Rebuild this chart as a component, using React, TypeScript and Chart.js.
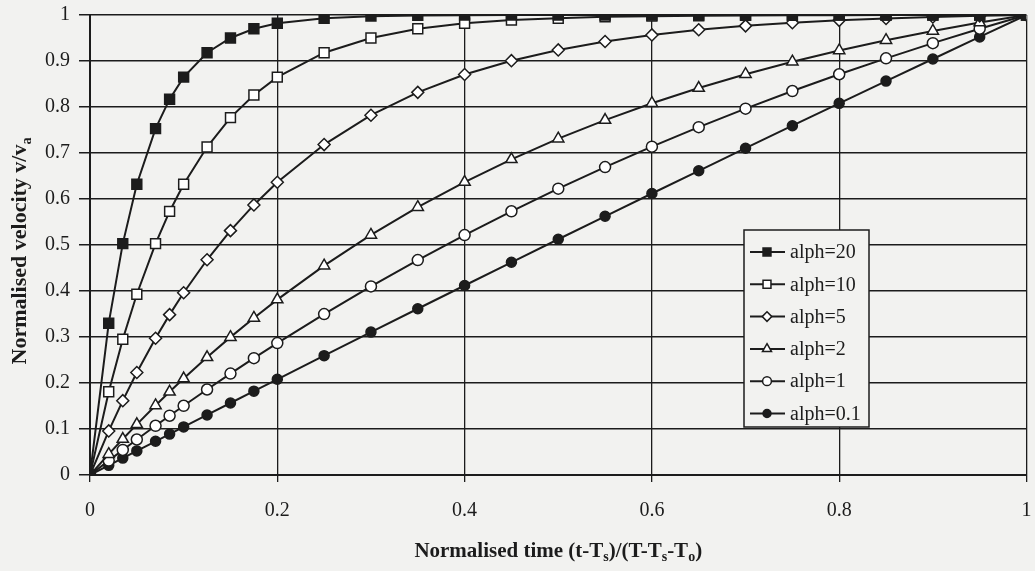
import React, { useEffect, useRef } from "react";
import { Chart, registerables } from "chart.js";

Chart.register(...registerables);

// ---- data ----
const timeValues = [0, 0.02, 0.035, 0.05, 0.07, 0.085, 0.1, 0.125, 0.15, 0.175, 0.2, 0.25, 0.3, 0.35, 0.4, 0.45, 0.5, 0.55, 0.6, 0.65, 0.7, 0.75, 0.8, 0.85, 0.9, 0.95, 1];

const alph20 = [0, 0.33, 0.503, 0.632, 0.753, 0.817, 0.865, 0.918, 0.95, 0.97, 0.982, 0.993, 0.9975, 0.9991, 0.9997, 0.9999, 1, 1, 1, 1, 1, 1, 1, 1, 1, 1, 1];
const alph10 = [0, 0.181, 0.295, 0.393, 0.503, 0.573, 0.632, 0.713, 0.777, 0.826, 0.865, 0.918, 0.95, 0.97, 0.982, 0.989, 0.993, 0.996, 0.9975, 0.9985, 0.9991, 0.9994, 0.9997, 0.9998, 0.9999, 0.99995, 1];
const alph5 = [0, 0.0958, 0.1616, 0.2227, 0.2973, 0.3486, 0.3962, 0.4679, 0.5312, 0.5871, 0.6364, 0.7183, 0.7822, 0.8318, 0.8706, 0.9007, 0.9241, 0.9424, 0.9567, 0.9678, 0.9764, 0.9831, 0.9884, 0.9924, 0.9956, 0.9981, 1];
const alph2 = [0, 0.0453, 0.0782, 0.1101, 0.1511, 0.1808, 0.2096, 0.2558, 0.2997, 0.3415, 0.3813, 0.4551, 0.5218, 0.5822, 0.6369, 0.6863, 0.7311, 0.7716, 0.8082, 0.8413, 0.8713, 0.8985, 0.923, 0.9453, 0.9653, 0.9835, 1];
const alph1 = [0, 0.0313, 0.0544, 0.0772, 0.107, 0.1289, 0.1505, 0.1859, 0.2204, 0.254, 0.2868, 0.3499, 0.41, 0.4672, 0.5215, 0.5733, 0.6225, 0.6693, 0.7138, 0.7561, 0.7964, 0.8347, 0.8712, 0.9058, 0.9388, 0.9702, 1];
const alph01 = [0, 0.021, 0.0367, 0.0524, 0.0733, 0.0889, 0.1046, 0.1305, 0.1565, 0.1823, 0.2081, 0.2595, 0.3106, 0.3614, 0.412, 0.4624, 0.5125, 0.5624, 0.612, 0.6613, 0.7104, 0.7593, 0.8079, 0.8563, 0.9044, 0.9523, 1];

const seriesLabels = ["alph=20", "alph=10", "alph=5", "alph=2", "alph=1", "alph=0.1"];
const seriesValues = [alph20, alph10, alph5, alph2, alph1, alph01];

const xTickLabels = ["0", "0.2", "0.4", "0.6", "0.8", "1"];
const yTickLabels = ["0", "0.1", "0.2", "0.3", "0.4", "0.5", "0.6", "0.7", "0.8", "0.9", "1"];

// title pieces: [text, isSubscript]
const xTitleParts: [string, boolean][] = [["Normalised time (t-T", false], ["s", true], [")/(T-T", false], ["s", true], ["-T", false], ["o", true], [")", false]];
const yTitleParts: [string, boolean][] = [["Normalised velocity v/v", false], ["a", true]];

// ---- styles ----
const INK = "#1c1c1c";
const BG = "#f2f2f0";
const SERIF = '"Liberation Serif", "Times New Roman", serif';

type Marker = { shape: string; fill: string; radius: number };
const markers: Marker[] = [
  { shape: "rect", fill: INK, radius: 7 },
  { shape: "rect", fill: "#ffffff", radius: 7 },
  { shape: "rectRot", fill: "#ffffff", radius: 6 },
  { shape: "triangle", fill: "#ffffff", radius: 6.5 },
  { shape: "circle", fill: "#ffffff", radius: 5.5 },
  { shape: "circle", fill: INK, radius: 5 },
];

function drawRich(ctx: CanvasRenderingContext2D, parts: [string, boolean][], cx: number, cy: number, size: number) {
  const big = `bold ${size}px ${SERIF}`;
  const small = `bold ${Math.round(size * 0.65)}px ${SERIF}`;
  let total = 0;
  for (const [t, sub] of parts) {
    ctx.font = sub ? small : big;
    total += ctx.measureText(t).width;
  }
  let x = cx - total / 2;
  ctx.textAlign = "left";
  ctx.textBaseline = "alphabetic";
  for (const [t, sub] of parts) {
    ctx.font = sub ? small : big;
    ctx.fillText(t, x, cy + size * 0.33 + (sub ? size * 0.2 : 0));
    x += ctx.measureText(t).width;
  }
}

function drawMarker(ctx: CanvasRenderingContext2D, m: Marker, x: number, y: number, scale: number) {
  const r = m.radius * scale;
  ctx.beginPath();
  if (m.shape === "rect") {
    const s = r * Math.SQRT1_2;
    ctx.rect(x - s, y - s, 2 * s, 2 * s);
  } else if (m.shape === "rectRot") {
    ctx.moveTo(x, y - r);
    ctx.lineTo(x + r, y);
    ctx.lineTo(x, y + r);
    ctx.lineTo(x - r, y);
    ctx.closePath();
  } else if (m.shape === "triangle") {
    ctx.moveTo(x, y - r);
    ctx.lineTo(x + r * 0.866, y + r * 0.5);
    ctx.lineTo(x - r * 0.866, y + r * 0.5);
    ctx.closePath();
  } else {
    ctx.arc(x, y, r, 0, Math.PI * 2);
  }
  ctx.fillStyle = m.fill;
  ctx.fill();
  ctx.lineWidth = 1.5;
  ctx.strokeStyle = INK;
  ctx.stroke();
}

const decorPlugin = {
  id: "decor",
  beforeDraw(chart: any) {
    const ctx = chart.ctx as CanvasRenderingContext2D;
    ctx.save();
    ctx.fillStyle = BG;
    ctx.fillRect(0, 0, chart.width, chart.height);
    ctx.restore();
  },
  afterDraw(chart: any) {
    const ctx = chart.ctx as CanvasRenderingContext2D;
    const a = chart.chartArea;
    ctx.save();
    ctx.fillStyle = INK;
    // axis titles
    drawRich(ctx, xTitleParts, (a.left + a.right) / 2, 550, 21);
    ctx.save();
    ctx.translate(19, 251);
    ctx.rotate(-Math.PI / 2);
    drawRich(ctx, yTitleParts, 0, 0, 22);
    ctx.restore();

    // legend
    const bx = 744, by = 230, bw = 125, bh = 197;
    ctx.fillStyle = BG;
    ctx.fillRect(bx, by, bw, bh);
    ctx.strokeStyle = INK;
    ctx.lineWidth = 1.5;
    ctx.strokeRect(bx, by, bw, bh);
    seriesLabels.forEach((label, i) => {
      const y = 252 + i * 32.3;
      ctx.beginPath();
      ctx.moveTo(750, y);
      ctx.lineTo(785, y);
      ctx.lineWidth = 2;
      ctx.strokeStyle = INK;
      ctx.stroke();
      drawMarker(ctx, markers[i], 767, y, 0.8);
      ctx.fillStyle = INK;
      ctx.font = `20px ${SERIF}`;
      ctx.textAlign = "left";
      ctx.textBaseline = "middle";
      ctx.fillText(label, 790, y + 1);
    });
    ctx.restore();
  },
};

export default function App() {
  const canvasRef = useRef<HTMLCanvasElement | null>(null);

  useEffect(() => {
    if (!canvasRef.current) return;
    const datasets = seriesValues.map((vals, i) => ({
      label: seriesLabels[i],
      data: vals.map((v, j) => ({ x: timeValues[j], y: v })),
      borderColor: INK,
      borderWidth: 2,
      backgroundColor: markers[i].fill,
      pointBackgroundColor: markers[i].fill,
      pointBorderColor: INK,
      pointBorderWidth: 1.5,
      pointStyle: markers[i].shape,
      pointRadius: markers[i].radius,
      tension: 0,
      fill: false,
    }));

    const chart = new Chart(canvasRef.current, {
      type: "line",
      data: { datasets },
      options: {
        animation: false,
        responsive: false,
        maintainAspectRatio: false,
        events: [],
        layout: { padding: { top: 15, right: 8, left: 0, bottom: 0 } },
        plugins: {
          legend: { display: false },
          tooltip: { enabled: false },
          title: { display: false },
        },
        scales: {
          x: {
            type: "linear",
            min: 0,
            max: 1,
            afterFit: (s: any) => { s.height = 96; s.paddingLeft = 0; s.paddingRight = 0; },
            afterBuildTicks: (s: any) => {
              s.ticks = xTickLabels.map((t) => ({ value: parseFloat(t) }));
            },
            ticks: {
              callback: (_v: any, i: number) => xTickLabels[i],
              color: INK,
              font: { family: SERIF, size: 20 },
              padding: 17,
              maxRotation: 0,
            },
            grid: { color: INK, lineWidth: 1.3, tickLength: 7, drawTicks: true },
            border: { display: true, color: INK, width: 2 },
          },
          y: {
            type: "linear",
            min: 0,
            max: 1,
            afterFit: (s: any) => { s.width = 90; s.paddingTop = 0; s.paddingBottom = 0; },
            afterBuildTicks: (s: any) => {
              s.ticks = yTickLabels.map((t) => ({ value: parseFloat(t) }));
            },
            ticks: {
              callback: (_v: any, i: number) => yTickLabels[i],
              color: INK,
              font: { family: SERIF, size: 20 },
              padding: 9,
            },
            grid: { color: INK, lineWidth: 1.5, tickLength: 11, drawTicks: true },
            border: { display: true, color: INK, width: 2 },
          },
        },
      },
      plugins: [decorPlugin],
    });
    return () => chart.destroy();
  }, []);

  return (
    <div style={{ position: "absolute", left: 0, top: 0, width: 1035, height: 571, background: BG }}>
      <canvas ref={canvasRef} width={1035} height={571} style={{ display: "block" }} />
    </div>
  );
}
